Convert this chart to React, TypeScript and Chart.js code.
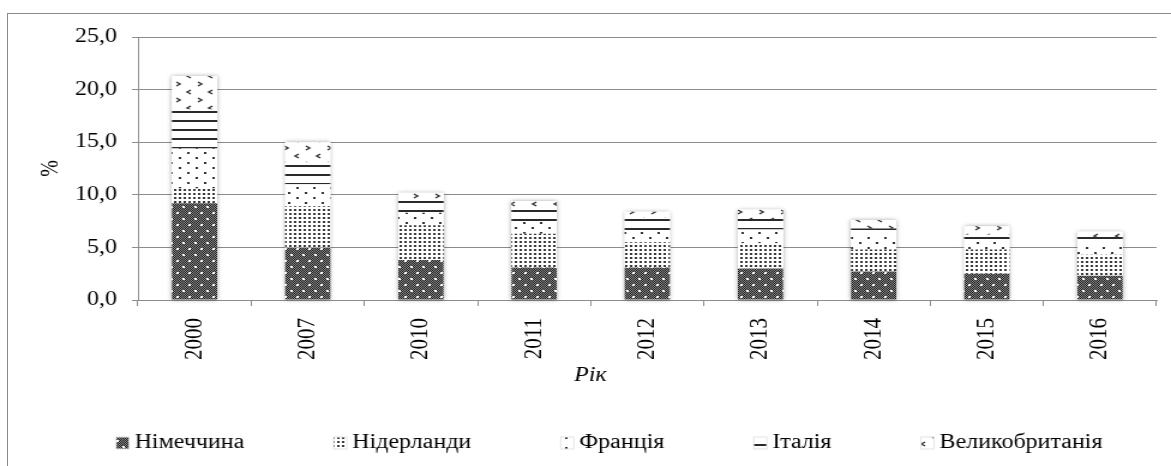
import React, { useEffect, useRef } from 'react';
import { Chart, registerables } from 'chart.js';

Chart.register(...registerables);

// ---- data ----
const years = ['2000', '2007', '2010', '2011', '2012', '2013', '2014', '2015', '2016'];
const germany = [9.2, 5.0, 3.8, 3.1, 3.1, 3.0, 2.7, 2.5, 2.3];
const netherlands = [1.4, 3.9, 3.3, 3.2, 2.4, 2.4, 2.1, 2.3, 2.0];
const france = [3.8, 2.1, 1.2, 1.2, 1.1, 1.3, 1.3, 1.0, 0.9];
const italy = [3.7, 2.1, 1.1, 1.2, 1.2, 1.0, 0.7, 0.4, 0.8];
const uk = [3.2, 1.9, 0.8, 0.7, 0.6, 0.9, 0.8, 0.8, 0.5];
const seriesNames = ['Німеччина', 'Нідерланди', 'Франція', 'Італія', 'Великобританія'];
const yTickValues = [0, 5, 10, 15, 20, 25];
const yAxisTitle = '%';
const xAxisTitle = 'Рік';

// ---- layout constants ----
const FULL_W = 1171;
const FULL_H = 466;
const INNER_W = 976; // drawn narrower, stretched horizontally like the reference
const FONT = '"Liberation Serif", "Times New Roman", Times, serif';
const GRID = '#8c8c8c';

function tile(w: number, h: number, draw: (g: CanvasRenderingContext2D) => void): CanvasPattern {
  const c = document.createElement('canvas');
  c.width = w;
  c.height = h;
  const g = c.getContext('2d') as CanvasRenderingContext2D;
  g.fillStyle = '#ffffff';
  g.fillRect(0, 0, w, h);
  draw(g);
  return g.createPattern(c, 'repeat') as CanvasPattern;
}

function makePatterns(): CanvasPattern[] {
  const pGermany = tile(10, 12, (g) => {
    for (let y = 0; y < 12; y++) {
      for (let x = 0; x < 10; x++) {
        g.fillStyle = (x + y) % 2 === 0 ? '#1e1e1e' : '#8a8a8a';
        g.fillRect(x, y, 1, 1);
      }
    }
    g.fillStyle = '#ffffff';
    g.fillRect(2, 2, 2, 2);
    g.fillRect(7, 8, 2, 2);
  });
  const pNetherlands = tile(4, 4, (g) => {
    g.fillStyle = '#3a3a3a';
    g.fillRect(1, 1, 2, 2);
  });
  const pFrance = tile(14, 10, (g) => {
    g.fillStyle = '#333333';
    g.fillRect(2, 2, 2, 2);
    g.fillRect(9, 7, 2, 2);
  });
  const pItaly = tile(4, 9, (g) => {
    g.fillStyle = '#2a2a2a';
    g.fillRect(0, 3, 4, 2);
  });
  const pUk = tile(18, 16, (g) => {
    g.strokeStyle = '#333333';
    g.lineWidth = 1.5;
    g.beginPath();
    g.moveTo(3, 2);
    g.lineTo(6, 4);
    g.lineTo(3, 6);
    g.stroke();
    g.beginPath();
    g.moveTo(15, 10);
    g.lineTo(12, 12);
    g.lineTo(15, 14);
    g.stroke();
  });
  return [pGermany, pNetherlands, pFrance, pItaly, pUk];
}

const glowPlugin = {
  id: 'barGlow',
  beforeDatasetsDraw(chart: any) {
    const ctx = chart.ctx as CanvasRenderingContext2D;
    const metas = chart.data.datasets.map((_: any, d: number) => chart.getDatasetMeta(d));
    const n = chart.data.labels.length;
    ctx.save();
    ctx.shadowColor = 'rgba(0,0,0,0.35)';
    ctx.shadowBlur = 4;
    ctx.fillStyle = '#ffffff';
    for (let i = 0; i < n; i++) {
      const first = metas[0].data[i];
      const last = metas[metas.length - 1].data[i];
      if (!first || !last) continue;
      const p = first.getProps(['x', 'width', 'base'], true);
      const top = last.getProps(['y'], true).y;
      ctx.fillRect(p.x - p.width / 2, top, p.width, p.base - top);
    }
    ctx.restore();
  },
};

const legendPlugin = {
  id: 'patternLegend',
  afterDraw(chart: any) {
    const ctx = chart.ctx as CanvasRenderingContext2D;
    const ds = chart.data.datasets;
    const boxW = 10;
    const boxH = 11;
    const boxGap = 5;
    const itemGap = 75;
    ctx.save();
    ctx.font = `20px ${FONT}`;
    ctx.textBaseline = 'middle';
    ctx.textAlign = 'left';
    const widths = ds.map((d: any) => boxW + boxGap + ctx.measureText(d.label).width);
    const total = widths.reduce((a: number, b: number) => a + b, 0) + itemGap * (ds.length - 1);
    let x = chart.width / 2 - total / 2 + 20;
    const y = chart.height - 23;
    ds.forEach((d: any, i: number) => {
      ctx.fillStyle = '#e4e4e4';
      ctx.fillRect(x - 1, y - boxH / 2 - 1, boxW + 2, boxH + 2);
      ctx.fillStyle = d.backgroundColor;
      ctx.fillRect(x, y - boxH / 2, boxW, boxH);
      ctx.fillStyle = '#000000';
      ctx.fillText(d.label, x + boxW + boxGap, y);
      x += widths[i] + itemGap;
    });
    ctx.restore();
  },
};

export default function App() {
  const ref = useRef<HTMLCanvasElement>(null);

  useEffect(() => {
    const patterns = makePatterns();
    const values = [germany, netherlands, france, italy, uk];
    const chart = new Chart(ref.current as HTMLCanvasElement, {
      type: 'bar',
      data: {
        labels: years,
        datasets: values.map((v, i) => ({
          label: seriesNames[i],
          data: v,
          backgroundColor: patterns[i] as any,
          borderWidth: 0,
          barPercentage: 0.4,
          categoryPercentage: 1.0,
        })),
      },
      options: {
        animation: false,
        responsive: true,
        maintainAspectRatio: false,
        layout: { padding: { left: 20, right: 12, top: 37, bottom: 78 } },
        plugins: {
          legend: { display: false },
          tooltip: { enabled: false },
          title: {
            display: true,
            text: xAxisTitle,
            position: 'bottom',
            weight: 500,
            color: '#000',
            font: { family: FONT, size: 20, style: 'italic', weight: 'normal', lineHeight: 1.2 },
            padding: { top: -8, bottom: 0 },
          } as any,
        },
        scales: {
          x: {
            stacked: true,
            grid: { offset: true, drawOnChartArea: false, drawTicks: true, tickLength: 6, color: GRID },
            border: { color: GRID, width: 1 },
            ticks: {
              minRotation: 90,
              maxRotation: 90,
              padding: 12,
              color: '#000',
              font: { family: FONT, size: 21 },
            },
          },
          y: {
            stacked: true,
            min: yTickValues[0],
            max: yTickValues[yTickValues.length - 1],
            afterBuildTicks: (axis: any) => {
              axis.ticks = yTickValues.map((v) => ({ value: v }));
            },
            ticks: {
              color: '#000',
              padding: 12.5,
              font: { family: FONT, size: 20 },
              callback: (v: any) => Number(v).toFixed(1).replace('.', ','),
            },
            grid: { color: GRID, tickLength: 5, drawTicks: true },
            border: { color: GRID, width: 1 },
            title: {
              display: true,
              text: yAxisTitle,
              color: '#000',
              font: { family: FONT, size: 20, lineHeight: 1.2 },
              padding: { top: 11, bottom: -5 },
            },
          },
        },
      },
      plugins: [glowPlugin, legendPlugin],
    });
    return () => chart.destroy();
  }, []);

  return (
    <div
      style={{
        position: 'absolute',
        left: 0,
        top: 0,
        width: FULL_W,
        height: FULL_H,
        overflow: 'hidden',
        background: '#ffffff',
      }}
    >
      <div
        style={{
          position: 'absolute',
          left: 7,
          top: 13,
          width: 1400,
          height: 700,
          borderLeft: '1px solid #8a8a8a',
          borderTop: '1px solid #8a8a8a',
        }}
      />
      <div
        style={{
          position: 'absolute',
          left: 0,
          top: 0,
          width: INNER_W,
          height: FULL_H,
          transform: `scaleX(${FULL_W / INNER_W})`,
          transformOrigin: '0 0',
        }}
      >
        <canvas ref={ref} />
      </div>
    </div>
  );
}
